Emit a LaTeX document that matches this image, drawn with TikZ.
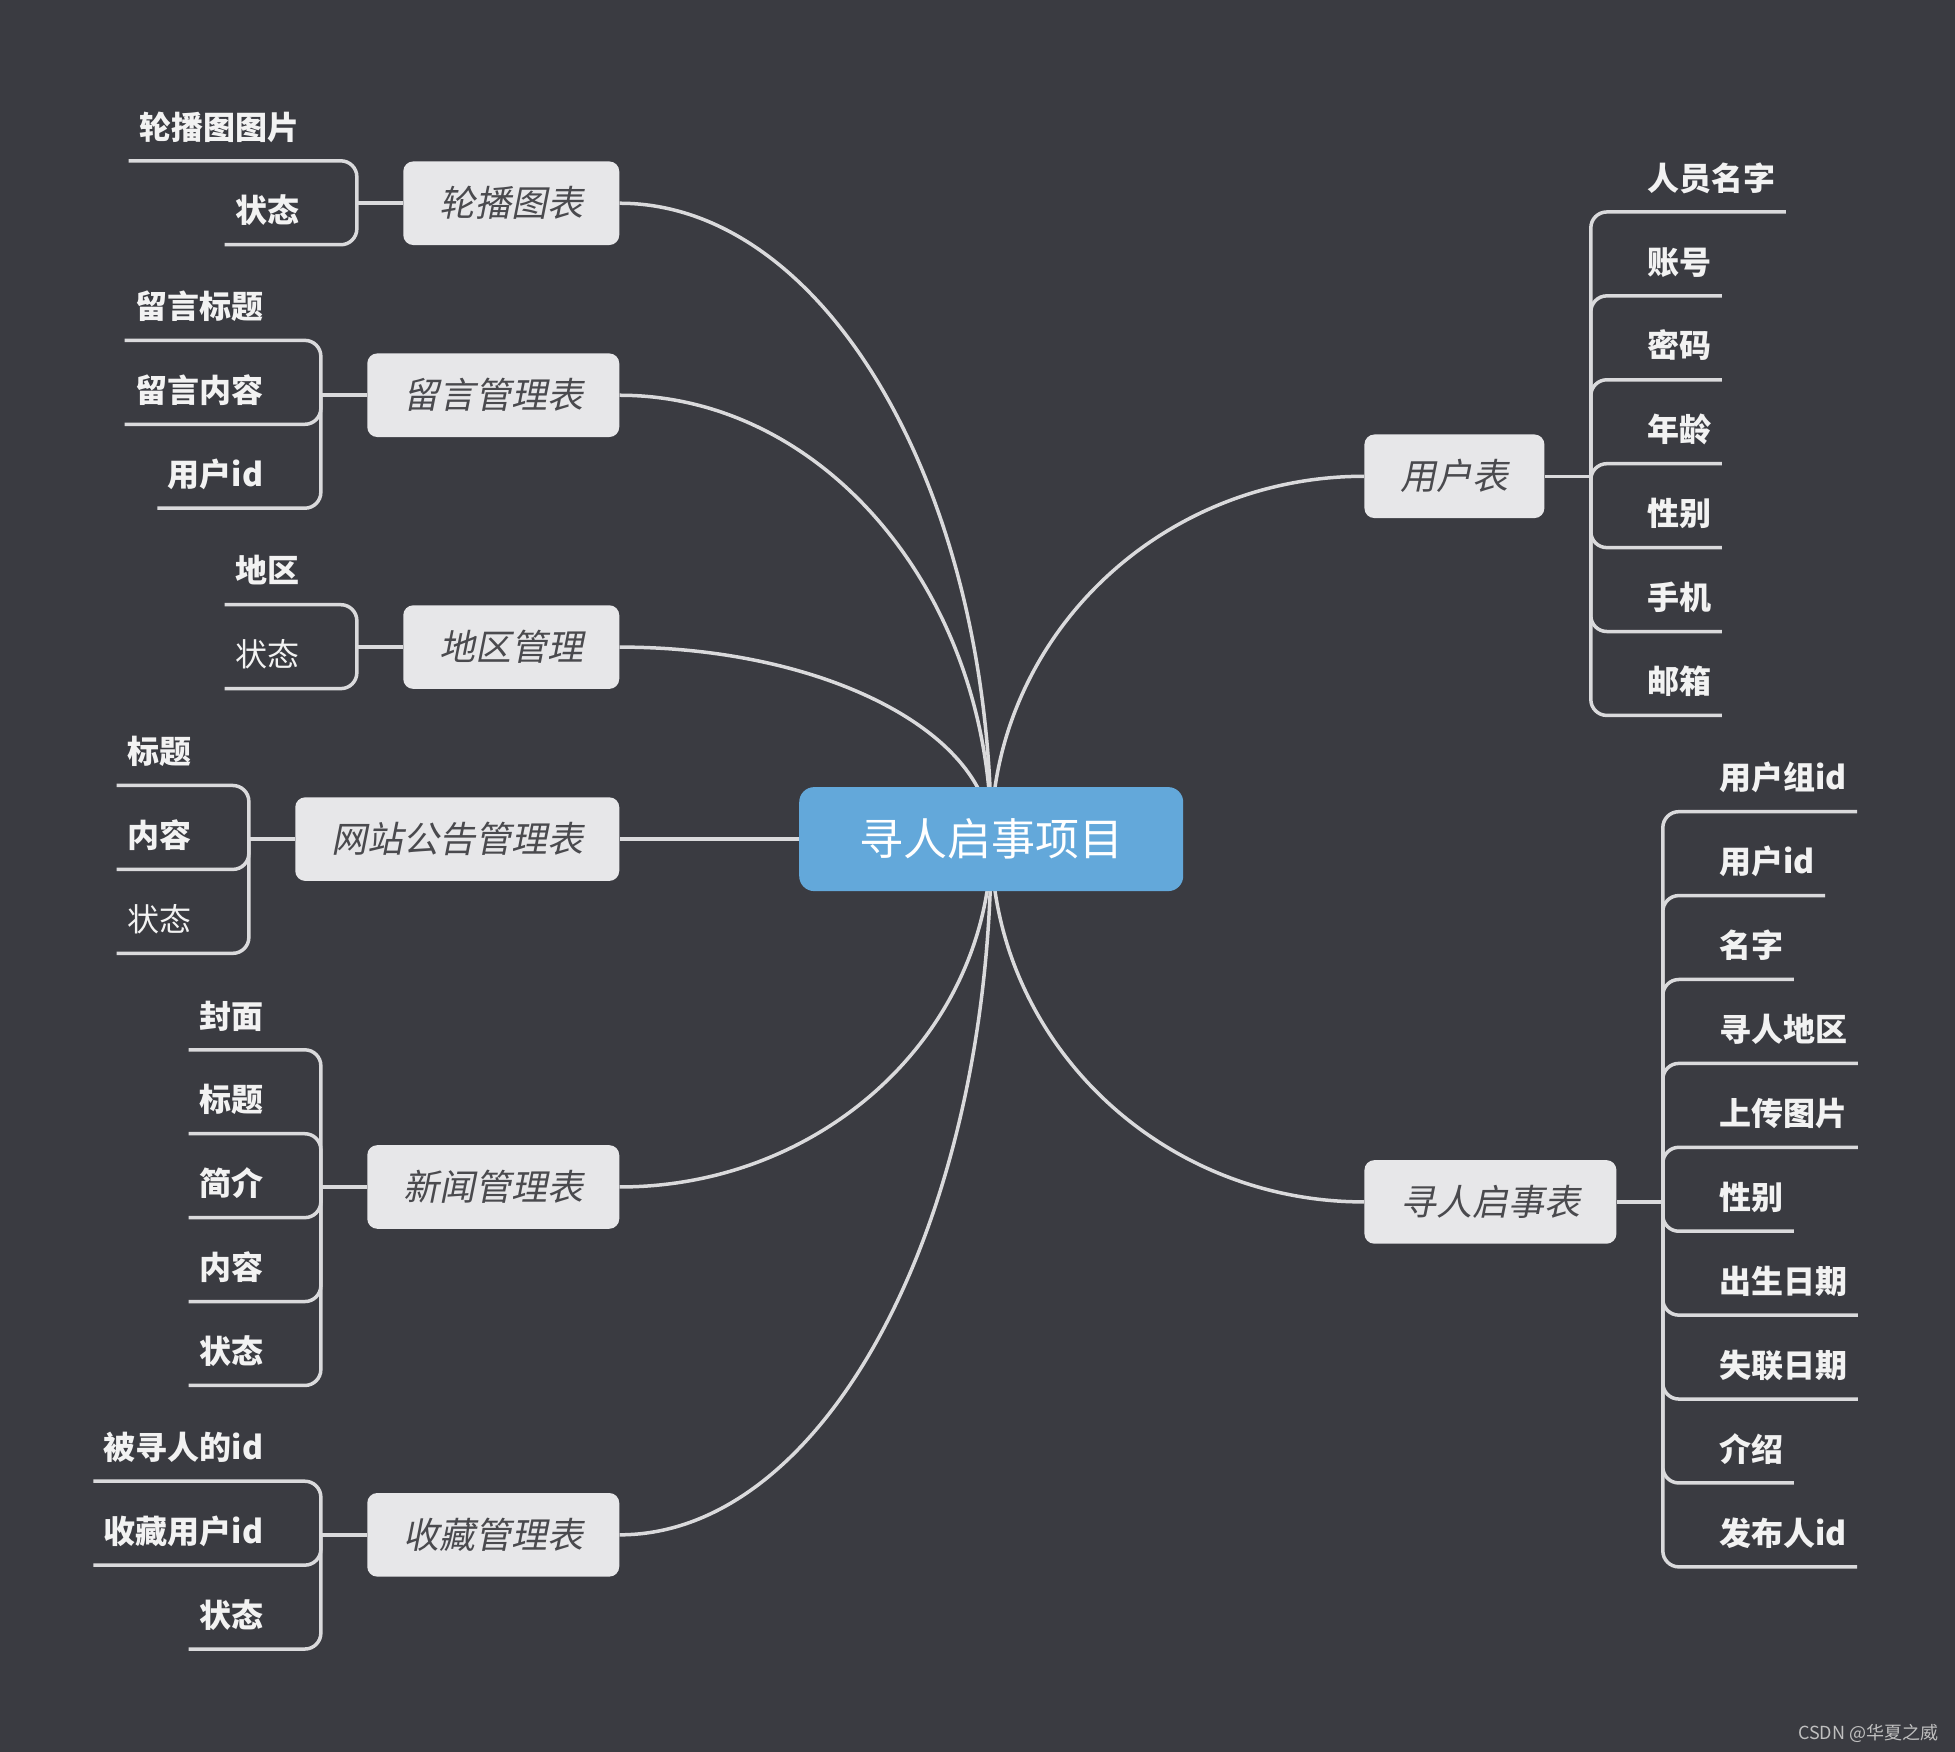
\documentclass[tikz,border=0pt]{standalone}
\usepackage{fontspec}
\setmainfont{Noto Sans CJK SC}
\newfontfamily\slantfont[FakeSlant=0.2]{Noto Sans CJK SC}
\usetikzlibrary{calc,positioning,backgrounds}

\definecolor{bgdark}{HTML}{3A3B41}
\definecolor{linegray}{HTML}{DADADC}
\definecolor{boxgray}{HTML}{E7E7E9}
\definecolor{boxtext}{HTML}{4A4A4E}
\definecolor{mainblue}{HTML}{63A8DA}

\begin{document}
\begin{tikzpicture}
[x=0.6234pt, y=-0.6234pt,
main topic/.style = {rectangle, rounded corners=7.5pt, fill=mainblue, text=white, minimum width=192pt,
                     minimum height=52pt, font=\fontsize{22pt}{24pt}\selectfont},
sub topic/.style = {rectangle, rounded corners=5pt, fill=boxgray, text=boxtext, inner xsep=18pt, inner ysep=0pt,
                    minimum height=41.8pt, font=\slantfont\fontsize{18pt}{20pt}\selectfont},
leaf text/.style = {inner xsep=5pt, inner ysep=0pt, minimum height=33.6pt, text height=13.3pt, text depth=1.1pt,
                    text=white!95!black, font=\fontsize{16pt}{18pt}\selectfont\bfseries},
left leaf/.style = {leaf text, anchor=south east},
right leaf/.style = {leaf text, anchor=south west},
link line/.style = {draw=linegray, line width=1.75pt},
bracket line/.style = {link line, rounded corners=8pt},
oval path/.style = {to path={.. controls ($(\tikztostart)!0.552!(\tikztostart|-\tikztotarget)$)
                    and ($(\tikztotarget)!0.552!(\tikztostart|-\tikztotarget)$) .. (\tikztotarget)}}]
\useasboundingbox (0,0) rectangle (1568,1405);

\node[main topic] (root) at (795,673) {寻人启事项目};
\node[sub topic, anchor=east] (lb1) at (497,163) {轮播图表};
\node[sub topic, anchor=east] (lb2) at (497,317) {留言管理表};
\node[sub topic, anchor=east] (lb3) at (497,519) {地区管理};
\node[sub topic, anchor=east] (lb4) at (497,673) {网站公告管理表};
\node[sub topic, anchor=east] (lb5) at (497,952) {新闻管理表};
\node[sub topic, anchor=east] (lb6) at (497,1231) {收藏管理表};
\node[sub topic, anchor=west] (rb1) at (1094,382) {用户表};
\node[sub topic, anchor=west] (rb2) at (1094,964) {寻人启事表};

% curves start under the blue box
\begin{scope}[on background layer]
\fill[bgdark] (0,0) rectangle (1568,1405);
\foreach \b in {lb1,lb2,lb3,lb5,lb6} \draw[link line] (root.center) to[oval path] (\b.east);
\draw[link line] (root.center) -- (lb4.east);
\foreach \b in {rb1,rb2} \draw[link line] (root.center) to[oval path] (\b.west);
\end{scope}

% left leaves
\coordinate[left=23pt of lb1] (lj1);
\draw[link line] (lb1) -- (lj1);
\foreach \t [count=\i] in {轮播图图片,状态} {
  \node[left leaf] (l1\i) at ($(lj1)+(-38,{-34+67.3*(\i-1)})$) {\t};
  \draw[bracket line] (lj1) |- (l1\i.south west);
}
\coordinate[left=23pt of lb2] (lj2);
\draw[link line] (lb2) -- (lj2);
\foreach \t [count=\i] in {留言标题,留言内容,用户id} {
  \node[left leaf] (l2\i) at ($(lj2)+(-38,{-44+67.3*(\i-1)})$) {\t};
  \draw[bracket line] (lj2) |- (l2\i.south west);
}
\coordinate[left=23pt of lb3] (lj3);
\draw[link line] (lb3) -- (lj3);
\foreach \t [count=\i] in {地区,{\mdseries 状态}} {
  \node[left leaf] (l3\i) at ($(lj3)+(-38,{-34+67.3*(\i-1)})$) {\t};
  \draw[bracket line] (lj3) |- (l3\i.south west);
}
\coordinate[left=23pt of lb4] (lj4);
\draw[link line] (lb4) -- (lj4);
\foreach \t [count=\i] in {标题,内容,{\mdseries 状态}} {
  \node[left leaf] (l4\i) at ($(lj4)+(-38,{-43+67.3*(\i-1)})$) {\t};
  \draw[bracket line] (lj4) |- (l4\i.south west);
}
\coordinate[left=23pt of lb5] (lj5);
\draw[link line] (lb5) -- (lj5);
\foreach \t [count=\i] in {封面,标题,简介,内容,状态} {
  \node[left leaf] (l5\i) at ($(lj5)+(-38,{-110+67.3*(\i-1)})$) {\t};
  \draw[bracket line] (lj5) |- (l5\i.south west);
}
\coordinate[left=23pt of lb6] (lj6);
\draw[link line] (lb6) -- (lj6);
\foreach \t [count=\i] in {被寻人的id,收藏用户id,状态} {
  \node[left leaf] (l6\i) at ($(lj6)+(-38,{-43+67.3*(\i-1)})$) {\t};
  \draw[bracket line] (lj6) |- (l6\i.south west);
}

% right leaves
\coordinate[right=23pt of rb1] (rj1);
\draw[link line] (rb1) -- (rj1);
\foreach \t [count=\i] in {人员名字,账号,密码,年龄,性别,手机,邮箱} {
  \node[right leaf] (r1\i) at ($(rj1)+(37,{-212+67.3*(\i-1)})$) {\t};
  \draw[bracket line] (rj1) |- (r1\i.south east);
}
\coordinate[right=23pt of rb2] (rj2);
\draw[link line] (rb2) -- (rj2);
\foreach \t [count=\i] in {用户组id,用户id,名字,寻人地区,上传图片,性别,出生日期,失联日期,介绍,发布人id} {
  \node[right leaf] (r2\i) at ($(rj2)+(37,{-313+67.3*(\i-1)})$) {\t};
  \draw[bracket line] (rj2) |- (r2\i.south east);
}

\node[anchor=east, inner sep=0pt, text=white!75!black, font=\fontsize{9pt}{10pt}\selectfont] (mark) at (1555,1390) {CSDN @华夏之威};
\end{tikzpicture}
\end{document}
